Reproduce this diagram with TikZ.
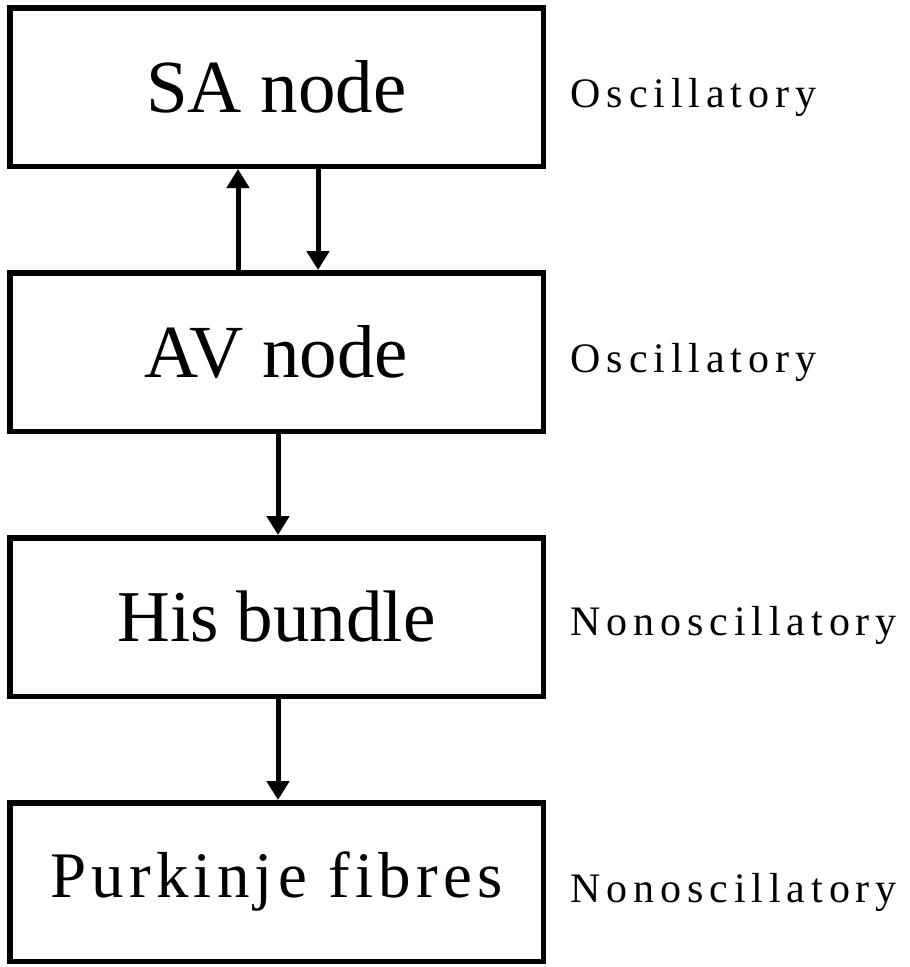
\documentclass[tikz,border=0pt]{standalone}
\usepackage{fontspec}
\setmainfont{Liberation Serif}
\newfontfamily\lblfont[LetterSpace=14]{Liberation Serif}
\newfontfamily\purkfont[LetterSpace=8,Ligatures=NoCommon]{Liberation Serif}
\usetikzlibrary{positioning,arrows.meta}

\begin{document}
\begin{tikzpicture}[x=1pt,y=1pt]
    \tikzstyle{block}=[draw, line width=5.5pt, minimum width=533.5pt, minimum height=158.5pt, inner sep=0pt]
    \tikzstyle{lbl}=[inner sep=0pt, font=\lblfont\fontsize{42}{46}\selectfont]
    \tikzstyle{link}=[line width=5pt, -{Triangle[width=22pt,length=19pt]}]
    \useasboundingbox (0,0) rectangle (910,-967);
    \fill[white] (0,0) rectangle (910,-967);
    \begin{scope}[node distance=101pt]
        \node[block, font=\fontsize{75}{80}\selectfont] (sa) at (276.5,-87) {SA node};
        \node[block, font=\fontsize{75}{80}\selectfont, below=of sa] (av) {AV node};
        \node[block, font=\fontsize{73}{78}\selectfont, below=of av] (his) {His bundle};
        \node[block, font=\purkfont\fontsize{65}{70}\selectfont, below=of his] (purk) {Purkinje fibres};
    \end{scope}
    \node[lbl, right=24.5pt of sa, yshift=-10pt] (sal) {Oscillatory};
    \node[lbl, right=24.5pt of av, yshift=-10pt] (avl) {Oscillatory};
    \node[lbl, right=24.5pt of his, yshift=-8pt] (hisl) {Nonoscillatory};
    \node[lbl, right=24.5pt of purk, yshift=-10pt] (purkl) {Nonoscillatory};
    \draw[link] ([xshift=-38.5pt]av.north) -- ([xshift=-38.5pt]sa.south);
    \draw[link] ([xshift=41.5pt]sa.south) -- ([xshift=41.5pt]av.north);
    \draw[link] ([xshift=1.5pt]av.south) -- ([xshift=1.5pt]his.north);
    \draw[link] ([xshift=1.5pt]his.south) -- ([xshift=1.5pt]purk.north);
\end{tikzpicture}
\end{document}
